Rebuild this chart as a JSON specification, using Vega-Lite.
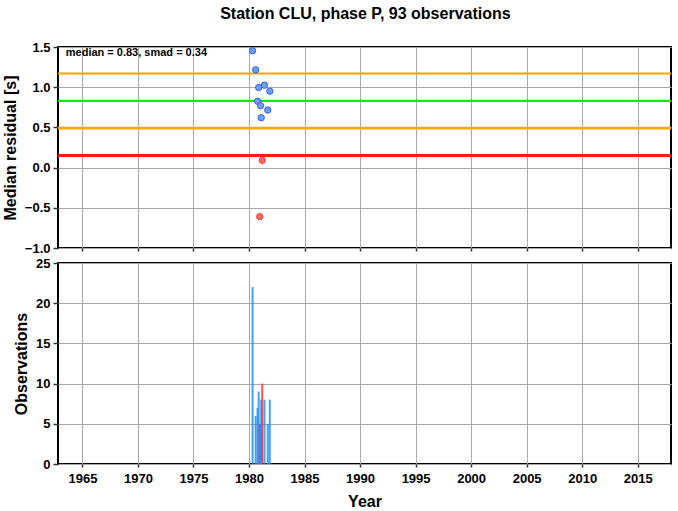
{
  "$schema": "https://vega.github.io/schema/vega-lite/v6.json",
  "padding": {"left": 1, "top": 6, "right": 6, "bottom": 2},
  "title": {"text": "Station CLU, phase P, 93 observations", "fontSize": 16, "font": "Liberation Sans", "fontWeight": "bold", "anchor": "middle", "offset": 18, "dx": 28, "color": "black"},
  "datasets": {
    "obs": [
      {"year": 1980.32, "residual": 1.454, "count": 22, "class": "good"},
      {"year": 1980.6, "residual": 1.216, "count": 6, "class": "good"},
      {"year": 1980.77, "residual": 0.825, "count": 7, "class": "good"},
      {"year": 1980.87, "residual": 0.996, "count": 9, "class": "good"},
      {"year": 1980.96, "residual": -0.61, "count": 5, "class": "bad"},
      {"year": 1981.04, "residual": 0.77, "count": 5, "class": "good"},
      {"year": 1981.1, "residual": 0.62, "count": 8, "class": "good"},
      {"year": 1981.19, "residual": 0.09, "count": 10, "class": "bad"},
      {"year": 1981.39, "residual": 1.025, "count": 8, "class": "good"},
      {"year": 1981.69, "residual": 0.716, "count": 5, "class": "good"},
      {"year": 1981.87, "residual": 0.95, "count": 8, "class": "good"}
    ],
    "levels": [
      {"kind": "median + smad", "value": 1.17},
      {"kind": "median", "value": 0.83},
      {"kind": "median - smad", "value": 0.49},
      {"kind": "median - 2 smad", "value": 0.15}
    ],
    "note": [
      {"label": "median = 0.83, smad = 0.34", "year": 1963.5, "residual": 1.425}
    ]
  },
  "bounds": "flush",
  "spacing": 15,
  "vconcat": [
    {
      "width": 613,
      "height": 201,
      "layer": [
        {
          "data": {"name": "levels"},
          "mark": {"type": "rule"},
          "encoding": {
            "y": {"field": "value", "type": "quantitative", "scale": {"domain": [-1, 1.5], "nice": false, "zero": false},
                  "axis": {"values": [-1, -0.5, 0, 0.5, 1, 1.5], "format": ".1f", "title": "Median residual [s]", "tickSize": 5, "labelPadding": 3, "titlePadding": 6}},
            "color": {"field": "kind", "type": "nominal", "scale": {"domain": ["median + smad", "median", "median - smad", "median - 2 smad"], "range": ["#ffa500", "#00ee00", "#ffa500", "#ff1a1a"]}, "legend": null},
            "strokeWidth": {"field": "kind", "type": "nominal", "scale": {"domain": ["median + smad", "median", "median - smad", "median - 2 smad"], "range": [2, 3, 2, 2]}, "legend": null}
          }
        },
        {
          "data": {"name": "obs"},
          "mark": {"type": "point", "filled": true, "size": 40, "opacity": 1, "strokeWidth": 1},
          "encoding": {
            "x": {"field": "year", "type": "quantitative", "scale": {"domain": [1962.8, 2018], "nice": false, "zero": false},
                  "axis": {"values": [1965, 1970, 1975, 1980, 1985, 1990, 1995, 2000, 2005, 2010, 2015], "labels": false, "title": null, "tickSize": 3}},
            "y": {"field": "residual", "type": "quantitative"},
            "fill": {"field": "class", "type": "nominal", "scale": {"domain": ["good", "bad"], "range": ["#6f9ff0", "#ff6a6a"]}, "legend": null},
            "stroke": {"field": "class", "type": "nominal", "scale": {"domain": ["good", "bad"], "range": ["#2f62e0", "#ff3a3a"]}, "legend": null}
          }
        },
        {
          "data": {"name": "note"},
          "mark": {"type": "text", "align": "left", "baseline": "middle", "font": "Liberation Sans", "fontWeight": "bold", "fontSize": 11, "color": "black"},
          "encoding": {
            "x": {"field": "year", "type": "quantitative"},
            "y": {"field": "residual", "type": "quantitative"},
            "text": {"field": "label"}
          }
        }
      ],
      "resolve": {"scale": {"color": "independent", "strokeWidth": "independent"}}
    },
    {
      "width": 613,
      "height": 201,
      "data": {"name": "obs"},
      "mark": {"type": "rule", "strokeWidth": 2, "opacity": 0.85},
      "encoding": {
        "x": {"field": "year", "type": "quantitative", "scale": {"domain": [1962.8, 2018], "nice": false, "zero": false},
              "axis": {"values": [1965, 1970, 1975, 1980, 1985, 1990, 1995, 2000, 2005, 2010, 2015], "format": "d", "title": "Year", "tickSize": 3, "labelPadding": 5, "titlePadding": 8}},
        "y": {"field": "count", "type": "quantitative", "scale": {"domain": [0, 25], "nice": false},
              "axis": {"values": [0, 5, 10, 15, 20, 25], "title": "Observations", "tickSize": 5, "labelPadding": 3, "titlePadding": 6}},
        "y2": {"datum": 0},
        "color": {"field": "class", "type": "nominal", "scale": {"domain": ["good", "bad"], "range": ["#1e90ff", "#ff3030"]}, "legend": null}
      }
    }
  ],
  "resolve": {"scale": {"color": "independent"}},
  "config": {
    "view": {"stroke": "black", "strokeWidth": 2},
    "axis": {
      "domain": false,
      "grid": true,
      "gridColor": "#a8a8a8",
      "gridOpacity": 1,
      "gridWidth": 1,
      "tickColor": "#333333",
      "tickWidth": 1.5,
      "labelFont": "Liberation Sans",
      "labelFontWeight": "bold",
      "labelFontSize": 13,
      "labelColor": "black",
      "titleFont": "Liberation Sans",
      "titleFontSize": 16,
      "titleFontWeight": "bold",
      "titleColor": "black"
    }
  }
}
